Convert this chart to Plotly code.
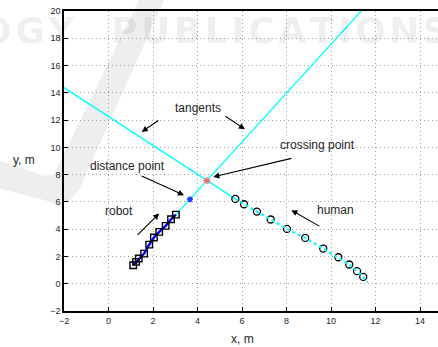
import plotly.graph_objects as go

# Robot trajectory samples (m)
robot_x = [1.11, 1.24, 1.36, 1.60, 1.83, 2.04, 2.28, 2.57, 2.81, 3.03]
robot_y = [1.36, 1.60, 1.85, 2.21, 2.87, 3.39, 3.80, 4.24, 4.73, 5.07]

# Human trajectory samples (m)
human_x = [5.70, 6.09, 6.67, 7.29, 8.02, 8.84, 9.65, 10.33, 10.82, 11.17, 11.45]
human_y = [6.22, 5.83, 5.29, 4.71, 4.02, 3.36, 2.58, 1.94, 1.41, 0.92, 0.50]
human_path_end = (11.66, 0.09)

# Tangent lines of both trajectories
robot_tangent_x = [3.03, 11.80]
robot_tangent_y = [5.07, 20.79]
human_tangent_x = [-2.00, 5.70]
human_tangent_y = [14.38, 6.22]

crossing_point = (4.42, 7.56)
distance_point = (3.66, 6.19)

# Labels: text, position, arrow tail, arrow head
labels = [
    ("tangents", (4.04, 12.87), None, None),
    ("crossing point", (9.40, 10.15), (8.29, 9.22), (4.71, 7.83)),
    ("distance point", (0.85, 8.64), (1.42, 7.95), (3.39, 6.49)),
    ("robot", (0.47, 5.34), (1.24, 3.48), (2.28, 5.15)),
    ("human", (10.22, 5.44), (9.54, 4.16), (8.22, 5.39)),
]
tangent_arrows = [((2.31, 12.05), (1.49, 11.13)), ((5.19, 12.35), (6.13, 11.33))]

x_ticks = [-2, 0, 2, 4, 6, 8, 10, 12, 14, 16]
y_ticks = [-2, 0, 2, 4, 6, 8, 10, 12, 14, 16, 18, 20]


def tick_text(v):
    return str(v).replace("-", "\u2212")


W, H = 438, 347
L, R, T, B = 64, 0, 11, 36
FONT = "Liberation Sans, Arial, sans-serif"
TXT = "#262626"

fig = go.Figure()

fig.add_trace(go.Scatter(x=human_tangent_x, y=human_tangent_y, mode="lines",
                         line=dict(color="#00ffff", width=1.3), hoverinfo="skip"))
fig.add_trace(go.Scatter(x=robot_tangent_x, y=robot_tangent_y, mode="lines",
                         line=dict(color="#00ffff", width=1.3), hoverinfo="skip"))

# robot: thick blue path with square samples
fig.add_trace(go.Scatter(x=robot_x, y=robot_y, mode="lines",
                         line=dict(color="#0000ff", width=2.5)))
fig.add_trace(go.Scatter(x=robot_x, y=robot_y, mode="markers",
                         marker=dict(symbol="square-open", size=6.5, color="black",
                                     line=dict(width=1.4, color="black"))))

# human: circles with a dotted cyan path
fig.add_trace(go.Scatter(x=human_x, y=human_y, mode="markers",
                         marker=dict(symbol="circle-open", size=7, color="black",
                                     line=dict(width=1.3, color="black"))))
fig.add_trace(go.Scatter(x=human_x + [human_path_end[0]], y=human_y + [human_path_end[1]],
                         mode="lines", line=dict(color="#00ffff", width=2.2, dash="dot")))

fig.add_trace(go.Scatter(x=[crossing_point[0]], y=[crossing_point[1]], mode="markers",
                         marker=dict(symbol="asterisk-open", size=6, color="#e87070",
                                     line=dict(width=1.3, color="#e87070"))))
fig.add_trace(go.Scatter(x=[distance_point[0]], y=[distance_point[1]], mode="markers",
                         marker=dict(symbol="asterisk-open", size=5, color="#2040ff",
                                     line=dict(width=1.5, color="#2040ff"))))

annotations = []
for text, (tx, ty), tail, head in labels:
    annotations.append(dict(x=tx, y=ty, xref="x", yref="y", text=text, showarrow=False,
                            font=dict(family=FONT, size=12, color=TXT)))
    if tail is not None:
        annotations.append(dict(x=head[0], y=head[1], ax=tail[0], ay=tail[1],
                                xref="x", yref="y", axref="x", ayref="y", text="",
                                showarrow=True, arrowhead=2, arrowsize=1.1,
                                arrowwidth=1.1, arrowcolor="black"))
for tail, head in tangent_arrows:
    annotations.append(dict(x=head[0], y=head[1], ax=tail[0], ay=tail[1],
                            xref="x", yref="y", axref="x", ayref="y", text="",
                            showarrow=True, arrowhead=2, arrowsize=1.1,
                            arrowwidth=1.1, arrowcolor="black"))


def px_to_paper(px, py):
    return (px - L) / (W - L - R), (H - B - py) / (H - T - B)


# axis titles
for text, (px, py) in [("x, m", (242, 339)), ("y, m", (24, 160))]:
    ax_x, ax_y = px_to_paper(px, py)
    annotations.append(dict(x=ax_x, y=ax_y, xref="paper", yref="paper", text=text,
                            xanchor="center", yanchor="middle", showarrow=False,
                            font=dict(family=FONT, size=12, color=TXT)))

# faint publisher mark in the background
mark = [(140, -2), (165, -2), (80, 188), (70, 200), (58, 205), (44, 200),
        (-2, 188), (-2, 160), (44, 176), (54, 174)]
pts = [px_to_paper(a, b) for a, b in mark]
path = "M " + " L ".join(f"{a:.4f},{b:.4f}" for a, b in pts) + " Z"
shapes = [dict(type="path", path=path, xref="paper", yref="paper", layer="below",
               fillcolor="#eeeeee", line=dict(width=0))]

hair = "\u200a"
for word, (px, py), anchor in [("OGY", (77, 30), "right"),
                               ("PUBLICATIONS", (109, 30), "left")]:
    wx, wy = px_to_paper(px, py)
    annotations.insert(0, dict(x=wx, y=wy, xref="paper", yref="paper", xanchor=anchor,
                               yanchor="middle", text="<b>" + hair.join(word) + "</b>",
                               showarrow=False,
                               font=dict(family="DejaVu Sans", size=36,
                                         color="rgba(0,0,0,0.075)")))

axis_common = dict(showline=True, linecolor="black", linewidth=1.5, ticks="inside",
                   ticklen=4, tickcolor="black", showgrid=True, gridcolor="#a0a0a0",
                   griddash="1px,3px", gridwidth=1, zeroline=False,
                   tickfont=dict(family=FONT, size=9, color=TXT))

fig.update_layout(
    width=W, height=H, margin=dict(l=L, r=R, t=T, b=B),
    paper_bgcolor="white", plot_bgcolor="white", showlegend=False,
    xaxis=dict(range=[-2, -2 + (W - L - R) / 22.25], tickvals=x_ticks,
               ticktext=[tick_text(v) for v in x_ticks], mirror=True, **axis_common),
    yaxis=dict(range=[-2, 20], tickvals=y_ticks, ticktext=[tick_text(v) for v in y_ticks],
               mirror=False, **axis_common),
    annotations=annotations, shapes=shapes,
)

fig.write_html("out.html")
